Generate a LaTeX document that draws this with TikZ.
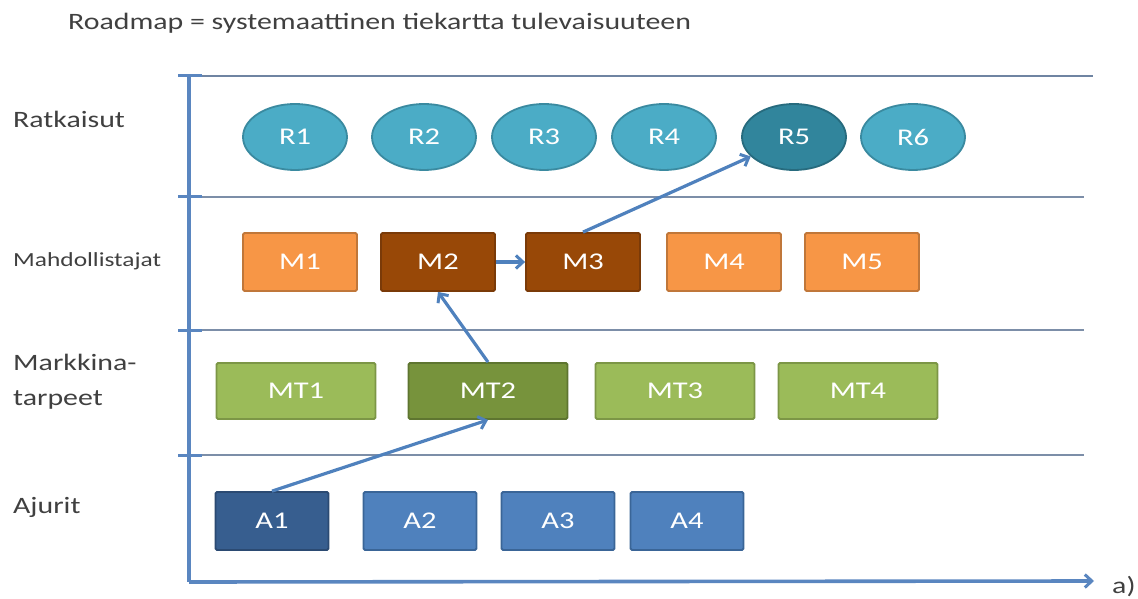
\documentclass[tikz,border=0pt]{standalone}
\usepackage{fontspec}
\setmainfont{Carlito}[FakeStretch=1.27]
\usetikzlibrary{shapes.geometric,arrows.meta}
\definecolor{txt}{HTML}{404040}
\definecolor{axis}{HTML}{5A86C0}
\definecolor{sep}{HTML}{7C8EA8}
\definecolor{topln}{HTML}{6F84A2}
\definecolor{link}{HTML}{4F81BD}
\definecolor{rfill}{HTML}{4BACC6}\definecolor{rdraw}{HTML}{3A8AA0}
\definecolor{rfillD}{HTML}{31859C}\definecolor{rdrawD}{HTML}{276B7E}
\definecolor{mfill}{HTML}{F79646}\definecolor{mdraw}{HTML}{C0773A}
\definecolor{mfillD}{HTML}{984807}\definecolor{mdrawD}{HTML}{7A3A08}
\definecolor{tfill}{HTML}{9BBB59}\definecolor{tdraw}{HTML}{7C9646}
\definecolor{tfillD}{HTML}{77933C}\definecolor{tdrawD}{HTML}{5E7530}
\definecolor{afill}{HTML}{4F81BD}\definecolor{adraw}{HTML}{3A6597}
\definecolor{afillD}{HTML}{375E8F}\definecolor{adrawD}{HTML}{2B4A72}
\tikzset{
  lbl/.style={anchor=base west,text=txt,font=\fontsize{23.5bp}{28bp}\selectfont,inner sep=0},
  item/.style={text=white,font=\fontsize{24bp}{28bp}\selectfont,line width=1.8bp,inner sep=0},
  sol/.style={item,ellipse,minimum width=104bp,minimum height=66bp,fill=rfill,draw=rdraw},
  solD/.style={sol,fill=rfillD,draw=rdrawD},
  enab/.style={item,rectangle,rounded corners=1.5bp,minimum width=114bp,minimum height=58bp,fill=mfill,draw=mdraw},
  enabD/.style={enab,fill=mfillD,draw=mdrawD},
  need/.style={item,rectangle,rounded corners=1.5bp,minimum width=159bp,minimum height=56bp,fill=tfill,draw=tdraw},
  needD/.style={need,fill=tfillD,draw=tdrawD},
  drv/.style={item,rectangle,rounded corners=1.5bp,minimum width=113bp,minimum height=58bp,fill=afill,draw=adraw},
  drvD/.style={drv,fill=afillD,draw=adrawD},
  link/.style={draw=link,line width=3.2bp,-{Straight Barb[length=7bp,width=13bp,line width=3bp]}},
}
\begin{document}
\begin{tikzpicture}[x=1bp,y=-1bp]
\useasboundingbox (0,0) rectangle (1138,599);

% title and lane names
\node[lbl] (title) at (68,30) {Roadmap = systemaattinen tiekartta tulevaisuuteen};
\node[lbl] (lr) at (13,128) {Ratkaisut};
\node[lbl,font=\fontsize{20bp}{24bp}\selectfont] (lm) at (13,267) {Mahdollistajat};
\node[lbl] (lt1) at (13,370) {Markkina-};
\node[lbl] (lt2) at (13,405) {tarpeet};
\node[lbl] (la) at (13,513) {Ajurit};
\node[lbl] (lx) at (1112,593) {a)};

% lane separators
\draw[topln,line width=2.2bp] (180,76) -- (1093,76);
\foreach \yy in {197,330,455}{
  \draw[sep,line width=1.5bp] (180,\yy) -- (1084,\yy);
  \draw[axis,line width=3bp] (178,\yy) -- (202,\yy);
}
\draw[axis,line width=3bp] (178,76) -- (202,76);

% axes
\coordinate (o) at (189,582);
\coordinate (ytop) at (189,76);
\coordinate (xend) at (1094,581);
\draw[axis,line width=3.6bp] (ytop) -- (o);
\draw[axis,line width=3.6bp,-{Straight Barb[length=7bp,width=13bp,line width=3bp]}] (o) -- (xend);

% Ratkaisut
\node[sol]  (R1) at (295,137) {R1};
\node[sol]  (R2) at (424,137) {R2};
\node[sol]  (R3) at (544,137) {R3};
\node[sol]  (R4) at (664,137) {R4};
\node[solD] (R5) at (794,137) {R5};
\node[sol]  (R6) at (913,137) {R6};

% Mahdollistajat
\node[enab]  (M1) at (300,262) {M1};
\node[enabD] (M2) at (438,262) {M2};
\node[enabD] (M3) at (583,262) {M3};
\node[enab]  (M4) at (724,262) {M4};
\node[enab]  (M5) at (862,262) {M5};

% Markkinatarpeet
\node[need]  (MT1) at (296,391) {MT1};
\node[needD] (MT2) at (488,391) {MT2};
\node[need]  (MT3) at (675,391) {MT3};
\node[need]  (MT4) at (858,391) {MT4};

% Ajurit
\node[drvD] (A1) at (272,521) {A1};
\node[drv]  (A2) at (420,521) {A2};
\node[drv]  (A3) at (558,521) {A3};
\node[drv]  (A4) at (687,521) {A4};

% path through the lanes
\draw[link] (A1.north) -- (MT2.south);
\draw[link] (MT2.north) -- (M2.south);
\draw[link] (M2.east) -- (M3.west);
\draw[link] (M3.north) -- (R5);
\end{tikzpicture}
\end{document}
